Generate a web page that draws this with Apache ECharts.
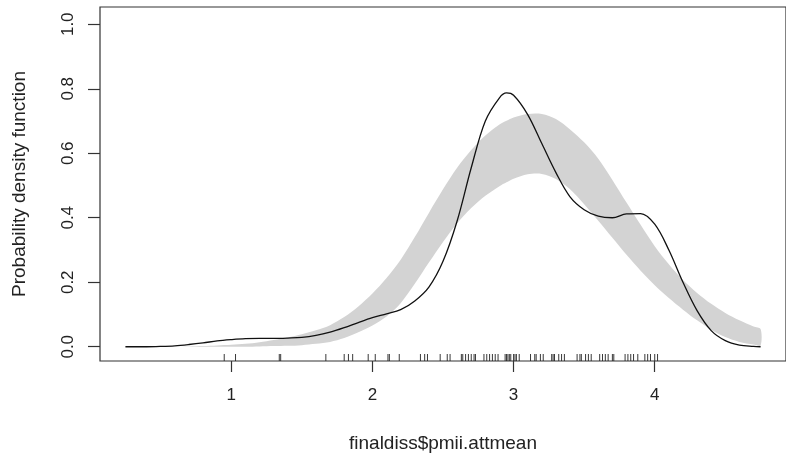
<!DOCTYPE html>
<html>
<head>
<meta charset="utf-8">
<script src="https://cdn.jsdelivr.net/npm/echarts@6/dist/echarts.min.js"></script>
<style>
  html, body { margin: 0; padding: 0; background: #fff; }
  #chart { width: 786px; height: 458px; }
</style>
</head>
<body>
<div id="chart"></div>
<script>
// Evaluation grid for the density estimate and the normal reference band
const evalX = [0.25, 0.3, 0.4, 0.5, 0.6, 0.7, 0.8, 0.9, 1.0, 1.1, 1.2, 1.3, 1.4, 1.5, 1.6, 1.7, 1.8, 1.9,
  2.0, 2.1, 2.2, 2.3, 2.4, 2.5, 2.6, 2.7, 2.8, 2.9, 2.95, 3.0, 3.1, 3.2, 3.3, 3.4, 3.5, 3.6, 3.7, 3.8, 3.9,
  4.0, 4.1, 4.2, 4.3, 4.4, 4.5, 4.6, 4.7, 4.75];

// Kernel density estimate of finaldiss$pmii.attmean
const densityY = [0.000, 0.000, 0.000, 0.001, 0.003, 0.007, 0.012, 0.018, 0.022, 0.025, 0.026, 0.026, 0.027, 0.029, 0.035, 0.045, 0.059, 0.075,
  0.090, 0.102, 0.115, 0.142, 0.185, 0.265, 0.390, 0.555, 0.700, 0.772, 0.787, 0.780, 0.720, 0.630, 0.540, 0.465, 0.425, 0.405, 0.400, 0.412, 0.413,
  0.380, 0.300, 0.200, 0.112, 0.050, 0.019, 0.005, 0.001, 0.000];

// Upper and lower limits of the reference band for a normal model
const bandUpper = [0.000, 0.000, 0.000, 0.000, 0.000, 0.001, 0.002, 0.004, 0.006, 0.009, 0.014, 0.021, 0.029, 0.039, 0.051, 0.067, 0.092, 0.125,
  0.165, 0.213, 0.270, 0.340, 0.415, 0.488, 0.555, 0.610, 0.655, 0.689, 0.701, 0.711, 0.722, 0.722, 0.706, 0.674, 0.634, 0.583, 0.517, 0.447, 0.378,
  0.312, 0.256, 0.207, 0.167, 0.133, 0.105, 0.082, 0.063, 0.055];
const bandLower = [0.000, 0.000, 0.000, 0.000, 0.000, 0.000, 0.000, 0.000, 0.000, 0.000, 0.001, 0.002, 0.003, 0.005, 0.009, 0.015, 0.027, 0.045,
  0.066, 0.094, 0.135, 0.195, 0.261, 0.325, 0.383, 0.430, 0.468, 0.498, 0.510, 0.521, 0.535, 0.536, 0.520, 0.488, 0.442, 0.391, 0.338, 0.285, 0.236,
  0.191, 0.151, 0.115, 0.082, 0.053, 0.030, 0.015, 0.007, 0.004];

// Observations shown as a rug along the x axis
const rugX = [0.95, 1.03, 1.34, 1.35, 1.67, 1.80, 1.83, 1.86, 1.97, 2.02, 2.11, 2.12, 2.19, 2.34, 2.37, 2.39, 2.48,
  2.53, 2.55, 2.63, 2.64, 2.66, 2.68, 2.70, 2.72, 2.73, 2.79, 2.81, 2.83, 2.85, 2.87, 2.89, 2.94, 2.95, 2.96,
  2.97, 2.98, 3.00, 3.01, 3.02, 3.04, 3.12, 3.15, 3.16, 3.19, 3.21, 3.27, 3.28, 3.29, 3.32, 3.34, 3.36, 3.45,
  3.47, 3.48, 3.51, 3.53, 3.55, 3.61, 3.63, 3.65, 3.67, 3.70, 3.71, 3.79, 3.81, 3.83, 3.85, 3.88, 3.93, 3.95,
  3.97, 4.00, 4.02];

// Axis ticks
const xTicks = [1, 2, 3, 4];
const yTicks = [0, 0.2, 0.4, 0.6, 0.8, 1.0];

const X_MIN = 0.0699, X_MAX = 4.93;
const Y_MIN = -0.0442, Y_MAX = 1.0535;

const FONT = '"Liberation Sans", Arial, Helvetica, sans-serif';
const INK = '#222';

const chart = echarts.init(document.getElementById('chart'), null, { renderer: 'canvas' });

chart.setOption({
  animation: false,
  backgroundColor: '#fff',
  grid: {
    left: 100, top: 7, width: 695, height: 355,
    show: true, borderColor: '#333', borderWidth: 1.2, backgroundColor: 'transparent'
  },
  xAxis: {
    type: 'value', min: X_MIN, max: X_MAX,
    name: 'finaldiss$pmii.attmean', nameLocation: 'middle', nameGap: 73,
    nameTextStyle: { fontFamily: FONT, fontSize: 19, color: INK },
    axisLine: { show: false, onZero: false },
    axisTick: { show: true, customValues: xTicks, length: 11, lineStyle: { color: '#333', width: 1.2 } },
    axisLabel: { customValues: xTicks, margin: 26, fontFamily: FONT, fontSize: 17, color: INK,
      formatter: v => String(v) },
    splitLine: { show: false }
  },
  yAxis: {
    type: 'value', min: Y_MIN, max: Y_MAX,
    name: 'Probability density function', nameLocation: 'middle', nameGap: 71,
    nameTextStyle: { fontFamily: FONT, fontSize: 19, color: INK },
    axisLine: { show: false, onZero: false },
    axisTick: { show: true, customValues: yTicks, length: 12, lineStyle: { color: '#333', width: 1.2 } },
    axisLabel: { customValues: yTicks, rotate: 90, margin: 23, fontFamily: FONT, fontSize: 17, color: INK,
      formatter: v => v.toFixed(1) },
    splitLine: { show: false }
  },
  series: [
    {
      // reference band: upper edge left to right, then lower edge back
      type: 'custom', z: 1, silent: true,
      data: [[evalX[0], bandLower[0]]],
      encode: { x: 0, y: 1 },
      renderItem: (params, api) => {
        const pts = [];
        for (let i = 0; i < evalX.length; i++) pts.push(api.coord([evalX[i], bandUpper[i]]));
        for (let i = evalX.length - 1; i >= 0; i--) pts.push(api.coord([evalX[i], bandLower[i]]));
        return {
          type: 'polygon',
          shape: { points: pts, smooth: 0.3 },
          style: { fill: '#d3d3d3', stroke: 'none' }
        };
      }
    },
    {
      type: 'line', symbol: 'none', smooth: 0.35, z: 3,
      lineStyle: { color: '#111', width: 1.3 },
      data: evalX.map((x, i) => [x, densityY[i]])
    },
    {
      // rug of observations
      type: 'custom', z: 4, silent: true,
      data: rugX.map(v => [v, Y_MIN]),
      encode: { x: 0, y: 1 },
      renderItem: (params, api) => {
        const p = api.coord([api.value(0), api.value(1)]);
        return {
          type: 'line',
          shape: { x1: p[0], y1: p[1], x2: p[0], y2: p[1] - 7 },
          style: { stroke: '#222', lineWidth: 0.9 }
        };
      }
    }
  ]
});
</script>
</body>
</html>
